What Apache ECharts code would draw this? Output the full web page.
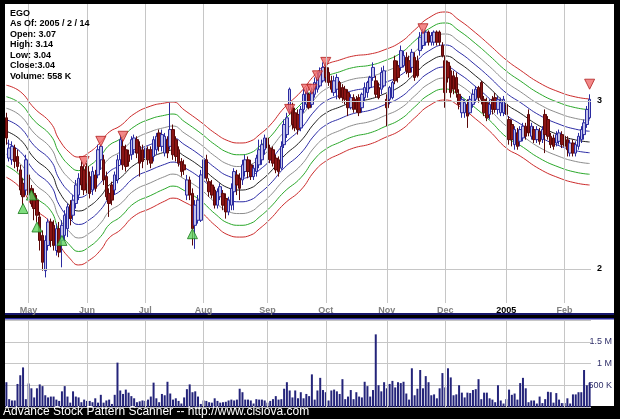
<!DOCTYPE html>
<html><head><meta charset="utf-8">
<script src="https://cdn.jsdelivr.net/npm/echarts@6/dist/echarts.min.js"></script>
<style>html,body{margin:0;padding:0;background:#000;}#c{width:620px;height:419px;}</style>
</head><body><div id="c"></div>
<script>
const opens = [2.90,2.66,2.65,2.72,2.67,2.59,2.51,2.47,2.56,2.48,
2.45,2.41,2.31,2.20,1.99,2.14,2.28,2.26,2.11,2.24,
2.17,2.20,2.24,2.38,2.32,2.39,2.44,2.61,2.59,2.61,
2.55,2.47,2.56,2.56,2.65,2.65,2.55,2.45,2.50,2.47,
2.53,2.65,2.73,2.71,2.68,2.68,2.71,2.77,2.73,2.71,
2.66,2.71,2.71,2.67,2.71,2.81,2.73,2.69,2.77,2.73,
2.83,2.77,2.71,2.64,2.62,2.44,2.53,2.45,2.26,2.29,
2.29,2.54,2.65,2.52,2.50,2.47,2.38,2.43,2.45,2.42,
2.34,2.38,2.46,2.56,2.54,2.53,2.58,2.65,2.62,2.55,
2.58,2.62,2.65,2.71,2.78,2.72,2.71,2.66,2.65,2.60,
2.74,2.80,2.95,2.96,2.93,2.92,2.84,2.95,2.98,3.04,
2.98,3.04,3.07,3.09,3.12,3.20,3.17,3.12,3.05,3.07,
3.11,3.08,3.07,3.05,2.96,3.02,3.01,3.02,2.96,3.02,
3.05,3.08,3.14,3.12,3.08,3.07,3.09,3.01,3.01,3.02,
3.24,3.21,3.20,3.21,3.26,3.24,3.20,3.26,3.24,3.30,
3.33,3.35,3.41,3.35,3.35,3.41,3.41,3.33,3.24,3.23,
3.18,3.15,3.14,3.04,2.93,2.93,2.98,2.93,2.98,3.01,
3.08,3.11,3.01,2.99,2.92,3.01,3.02,2.95,2.93,2.93,
2.98,2.89,2.86,2.74,2.81,2.76,2.78,2.85,2.92,2.79,
2.83,2.77,2.82,2.77,2.92,2.89,2.79,2.78,2.75,2.76,
2.80,2.79,2.77,2.69,2.75,2.69,2.73,2.77,2.80,2.86,2.90];
const closes = [2.78,2.72,2.73,2.64,2.61,2.47,2.43,2.65,2.44,2.39,
2.36,2.32,2.17,2.04,2.17,2.28,2.17,2.14,2.24,2.10,
2.26,2.32,2.37,2.30,2.41,2.50,2.54,2.50,2.47,2.51,
2.45,2.58,2.48,2.71,2.73,2.53,2.43,2.39,2.41,2.56,
2.65,2.77,2.62,2.61,2.64,2.77,2.78,2.69,2.63,2.64,
2.72,2.65,2.63,2.77,2.79,2.73,2.80,2.79,2.69,2.83,
2.68,2.67,2.63,2.58,2.59,2.53,2.44,2.24,2.38,2.41,
2.56,2.65,2.54,2.46,2.44,2.38,2.46,2.49,2.38,2.34,
2.41,2.48,2.58,2.50,2.48,2.62,2.65,2.58,2.55,2.60,
2.66,2.71,2.74,2.78,2.72,2.65,2.63,2.59,2.58,2.73,
2.86,2.90,3.07,2.86,2.84,2.83,2.95,3.04,3.05,2.96,
3.05,3.11,3.14,3.17,3.20,3.14,3.11,3.07,3.12,3.14,
3.02,3.02,3.01,2.96,3.02,2.95,2.95,2.93,3.04,3.08,
3.11,3.14,3.20,3.04,3.02,3.17,3.18,2.96,3.08,3.11,
3.12,3.14,3.30,3.27,3.18,3.17,3.29,3.14,3.15,3.38,
3.41,3.41,3.35,3.39,3.41,3.35,3.35,3.27,3.05,3.14,
3.05,3.07,3.05,2.98,3.01,2.99,2.91,3.01,3.04,3.07,
3.02,3.01,2.93,2.90,2.98,2.95,2.95,3.01,2.99,3.01,
2.92,2.77,2.77,2.83,2.73,2.83,2.85,2.79,2.81,2.85,
2.77,2.83,2.76,2.83,2.80,2.79,2.74,2.73,2.80,2.81,
2.74,2.73,2.71,2.75,2.69,2.74,2.79,2.83,2.87,2.95,3.01];
const lows = [2.74,2.64,2.62,2.60,2.58,2.44,2.38,2.44,2.41,2.37,
2.29,2.28,2.11,1.99,1.95,2.11,2.13,2.11,2.08,2.07,
2.01,2.17,2.19,2.26,2.29,2.36,2.41,2.47,2.44,2.45,
2.42,2.44,2.46,2.54,2.59,2.50,2.41,2.31,2.38,2.44,
2.51,2.62,2.59,2.58,2.61,2.65,2.68,2.66,2.55,2.60,
2.63,2.62,2.60,2.64,2.68,2.70,2.70,2.67,2.66,2.71,
2.65,2.64,2.61,2.55,2.56,2.41,2.41,2.14,2.12,2.27,
2.28,2.52,2.52,2.43,2.42,2.36,2.36,2.41,2.35,2.30,
2.32,2.35,2.35,2.44,2.41,2.50,2.55,2.54,2.53,2.53,
2.55,2.60,2.62,2.68,2.70,2.63,2.61,2.57,2.55,2.59,
2.72,2.78,2.92,2.83,2.82,2.80,2.82,2.93,2.96,2.95,
2.96,3.02,3.05,3.08,3.11,3.11,3.09,3.05,3.03,3.01,
3.01,2.99,2.98,2.91,2.95,2.93,2.93,2.91,2.93,3.00,
3.02,3.07,3.12,3.02,3.01,3.04,3.08,2.85,2.98,3.01,
3.10,3.11,3.18,3.20,3.16,3.14,3.17,3.12,3.14,3.27,
3.31,3.33,3.33,3.33,3.33,3.33,3.33,3.26,2.96,3.11,
3.02,3.04,3.02,2.95,2.90,2.90,2.84,2.92,2.96,2.99,
2.99,2.98,2.91,2.88,2.89,2.92,2.93,2.92,2.91,2.91,
2.89,2.74,2.73,2.71,2.71,2.73,2.76,2.77,2.79,2.77,
2.75,2.75,2.74,2.75,2.69,2.77,2.72,2.71,2.73,2.74,
2.72,2.69,2.67,2.67,2.67,2.67,2.71,2.75,2.77,2.84,2.89];
const highs = [2.93,2.77,2.76,2.74,2.71,2.62,2.54,2.68,2.59,2.50,
2.48,2.44,2.34,2.23,2.20,2.30,2.30,2.29,2.27,2.28,
2.29,2.35,2.39,2.41,2.44,2.53,2.57,2.64,2.62,2.63,
2.58,2.61,2.59,2.74,2.74,2.68,2.58,2.48,2.52,2.58,
2.68,2.80,2.77,2.74,2.71,2.79,2.80,2.79,2.76,2.74,
2.75,2.73,2.73,2.79,2.81,2.83,2.83,2.81,2.79,2.99,
2.86,2.79,2.73,2.66,2.65,2.56,2.55,2.48,2.41,2.44,
2.59,2.70,2.68,2.54,2.53,2.49,2.48,2.51,2.47,2.45,
2.43,2.51,2.60,2.59,2.57,2.65,2.68,2.67,2.65,2.62,
2.68,2.77,2.77,2.80,2.80,2.74,2.73,2.68,2.67,2.76,
2.89,2.93,3.08,2.99,2.96,2.95,2.97,3.07,3.08,3.05,
3.08,3.14,3.17,3.20,3.23,3.23,3.20,3.15,3.15,3.16,
3.12,3.10,3.09,3.07,3.04,3.04,3.03,3.04,3.05,3.11,
3.12,3.15,3.23,3.15,3.11,3.20,3.21,3.04,3.09,3.12,
3.27,3.24,3.33,3.30,3.29,3.27,3.31,3.29,3.27,3.41,
3.43,3.42,3.42,3.41,3.42,3.42,3.42,3.35,3.27,3.24,
3.21,3.18,3.17,3.07,3.03,3.01,3.01,3.03,3.07,3.09,
3.09,3.12,3.03,3.02,3.01,3.03,3.05,3.03,3.02,3.03,
3.01,2.91,2.89,2.85,2.84,2.85,2.87,2.87,2.95,2.87,
2.85,2.85,2.84,2.85,2.95,2.91,2.81,2.80,2.82,2.83,
2.82,2.81,2.79,2.77,2.77,2.76,2.81,2.85,2.89,2.97,3.04];
const volumesK = [570,180,150,150,530,730,910,180,540,430,
220,430,520,480,270,220,240,240,170,140,
360,480,240,100,360,240,220,110,170,140,
140,110,200,100,280,100,150,170,70,280,
1020,380,300,400,330,250,200,110,130,150,
140,170,240,560,200,110,300,270,580,310,
170,200,140,80,220,410,520,340,360,240,
70,150,140,110,100,200,140,100,110,120,
150,170,150,170,420,340,170,170,150,80,
180,170,170,150,100,140,180,250,170,180,
420,570,380,220,380,200,340,200,300,250,
750,170,380,670,390,340,150,380,400,360,
300,640,180,240,390,180,340,240,220,580,
480,240,390,1670,500,360,570,430,530,600,
450,570,550,580,310,170,890,270,420,850,
430,710,570,270,290,200,430,780,450,890,
680,270,290,500,330,220,330,320,390,410,
640,180,330,330,200,170,110,500,150,80,
180,400,280,310,170,550,670,430,110,150,
150,80,240,90,180,350,340,100,320,170,
90,90,200,80,290,290,340,340,850,500,558];
const monthIdx = [8,29,50,71,94,115,137,158,180,201];
const monthLabels = ['May','Jun','Jul','Aug','Sep','Oct','Nov','Dec','2005','Feb'];
const bandIdx = [0,5,10,16,19,23,26,30,34,37,41,46,52,57,60,64,70,75,80,84,88,91,95,100,106,111,115,120,125,131,136,142,147,152,158,163,169,174,180,185,192,199,205,210];
const bandMid = [2.82,2.77,2.66,2.57,2.46,2.375,2.345,2.375,2.435,2.50,2.542,2.619,2.666,2.696,2.708,2.673,2.607,2.536,2.482,2.47,2.482,2.518,2.577,2.673,2.762,2.869,2.928,2.964,2.994,3.012,3.042,3.089,3.161,3.232,3.268,3.226,3.149,3.077,2.982,2.928,2.851,2.798,2.768,2.756];
const bandHalf = [.274,.286,.298,.298,.310,.315,.321,.321,.321,.315,.310,.304,.304,.292,.286,.274,.268,.274,.280,.280,.280,.280,.280,.286,.292,.286,.286,.280,.274,.268,.262,.262,.262,.262,.262,.256,.256,.256,.262,.256,.256,.256,.256,.256];
const buySignals = [[6,2.36],[9,2.44],[11,2.25],[20,2.17],[67,2.21]];
const sellSignals = [[28,2.64],[34,2.76],[42,2.79],[102,2.95],[108,3.07],[110,3.07],[112,3.15],[115,3.23],[150,3.43],[210,3.10]];
const priceTicks = [2,3];
const infoLines = ['EGO','As Of: 2005 / 2 / 14','Open: 3.07','High: 3.14','Low: 3.04','Close:3.04','Volume: 558 K'];

const categories = opens.map((_, i) => String(i));
const candleData = opens.map((o, i) => [o, closes[i], lows[i], highs[i]]);
const bandSteps = [4,3,2,1,0,-1,-2,-3,-4];
const bandColors = ['#cc2b2b','#2aa82a','#8c8c8c','#2c2ca6','#222222','#2c2ca6','#8c8c8c','#2aa82a','#cc2b2b'];
const gridColor = '#c6c6c6';

const bandSeries = bandSteps.map((k, j) => ({
  type: 'line', xAxisIndex: 0, yAxisIndex: 0, z: 2, silent: true,
  symbol: 'none', smooth: 0.5,
  lineStyle: { color: bandColors[j], width: 1 },
  data: bandIdx.map((ix, n) => [ix, +(bandMid[n] + k * bandHalf[n] / 4).toFixed(4)])
}));

const chart = echarts.init(document.getElementById('c'), null, { renderer: 'canvas' });
chart.setOption({
  animation: false,
  backgroundColor: '#000000',
  grid: [
    { left: 5, right: 29, top: 4, bottom: 116 },
    { left: 5, right: 29, top: 320, bottom: 12 }
  ],
  xAxis: [
    { type: 'category', gridIndex: 0, data: categories, boundaryGap: true,
      axisLine: { show: false }, axisTick: { show: false }, splitLine: { show: false },
      axisLabel: { interval: (i) => monthIdx.indexOf(i) >= 0, margin: 3,
        formatter: (v, i) => { const l = monthLabels[monthIdx.indexOf(i)]; return l === '2005' ? '{y|2005}' : '{m|' + l + '}'; },
        rich: { m: { color: '#808080', fontSize: 9, fontWeight: 'bold', fontFamily: 'Arial' },
                y: { color: '#000000', fontSize: 9, fontWeight: 'bold', fontFamily: 'Arial' } } } },
    { type: 'category', gridIndex: 1, data: categories, boundaryGap: true,
      axisLine: { show: false }, axisTick: { show: false }, splitLine: { show: false }, axisLabel: { show: false } }
  ],
  yAxis: [
    { type: 'value', gridIndex: 0, position: 'right', min: 1.7976, max: 3.5774,
      axisLine: { show: false }, axisTick: { show: false }, splitLine: { show: false },
      axisLabel: { customValues: priceTicks, margin: 6, color: '#000', fontSize: 9, fontWeight: 'bold', fontFamily: 'Arial' } },
    { type: 'value', gridIndex: 1, position: 'right', min: 0, max: 2000, interval: 500,
      axisLine: { show: false }, axisTick: { show: false },
      splitLine: { show: true, lineStyle: { color: gridColor, width: 1 } },
      axisLabel: { margin: 21, align: 'right', color: '#30306a', fontSize: 9, fontFamily: 'Arial',
        formatter: (v) => v === 500 ? '500 K' : v === 1000 ? '1 M' : v === 1500 ? '1.5 M' : '' } }
  ],
  graphic: { elements: [
    { type: 'rect', z: -100, shape: { x: 5, y: 4, width: 609, height: 309 }, style: { fill: '#ffffff' } },
    { type: 'rect', z: -100, shape: { x: 5, y: 313, width: 609, height: 2 }, style: { fill: '#16166a' } },
    { type: 'rect', z: -100, shape: { x: 5, y: 318, width: 609, height: 88 }, style: { fill: '#ffffff' } },
    { type: 'rect', z: -99, shape: { x: 5, y: 318, width: 609, height: 1.5 }, style: { fill: '#2a2aa0' } },
    ...infoLines.map((t, i) => ({ type: 'text', z: 50, left: 10, top: 9 + i * 10.5,
      style: { text: t, fill: '#000', font: 'bold 9px Arial' } })),
    { type: 'text', z: 50, left: 3, top: 406, style: { text: 'Advance Stock Pattern Scanner -- http://www.cisiova.com', fill: '#ffffff', font: '12px Arial' } }
  ] },
  series: [
    { type: 'line', xAxisIndex: 0, yAxisIndex: 0, data: [], z: 1, silent: true,
      markLine: { silent: true, symbol: ['none', 'none'], label: { show: false }, animation: false,
        lineStyle: { color: gridColor, type: 'solid', width: 1 },
        data: [...monthIdx.map(i => ({ xAxis: i })), ...priceTicks.map(v => ({ yAxis: v }))] } },
    ...bandSeries,
    { type: 'candlestick', xAxisIndex: 0, yAxisIndex: 0, z: 3, barWidth: 3, data: candleData,
      itemStyle: { color: '#c2c2ea', color0: '#8a1414', borderColor: '#2a2aa0', borderColor0: '#5a0808', borderWidth: 1 } },
    { type: 'scatter', xAxisIndex: 0, yAxisIndex: 0, z: 4, symbol: 'triangle', symbolSize: [10, 10],
      itemStyle: { color: '#5fd45f', borderColor: '#1c7a1c', borderWidth: 1 }, data: buySignals },
    { type: 'scatter', xAxisIndex: 0, yAxisIndex: 0, z: 4, symbol: 'triangle', symbolSize: [10, 10], symbolRotate: 180,
      itemStyle: { color: '#f06a6a', borderColor: '#b02020', borderWidth: 1 }, data: sellSignals },
    { type: 'line', xAxisIndex: 1, yAxisIndex: 1, data: [], z: 1, silent: true,
      markLine: { silent: true, symbol: ['none', 'none'], label: { show: false }, animation: false,
        lineStyle: { color: gridColor, type: 'solid', width: 1 },
        data: monthIdx.map(i => ({ xAxis: i })) } },
    { type: 'bar', xAxisIndex: 1, yAxisIndex: 1, z: 3, barWidth: 2, data: volumesK,
      itemStyle: { color: '#24247a' } }
  ]
});
</script></body></html>
